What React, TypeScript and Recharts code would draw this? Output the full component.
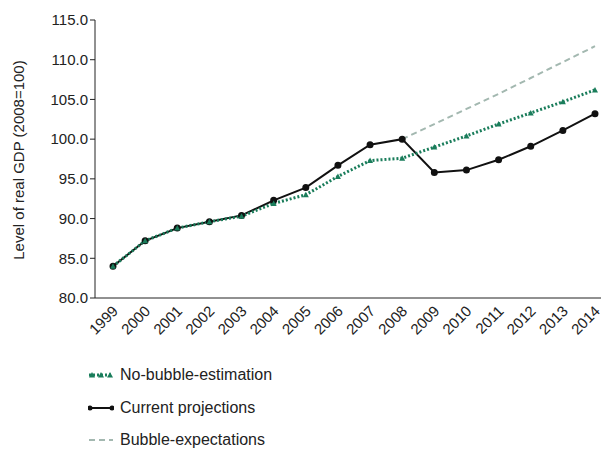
import { LineChart, Line, XAxis, YAxis } from "recharts";

const years = ["1999","2000","2001","2002","2003","2004","2005","2006","2007","2008","2009","2010","2011","2012","2013","2014"];
const noBubble = [84.0, 87.2, 88.8, 89.6, 90.3, 91.9, 93.0, 95.3, 97.3, 97.6, 99.0, 100.4, 101.9, 103.3, 104.7, 106.2];
const current = [84.0, 87.2, 88.8, 89.6, 90.4, 92.3, 93.9, 96.7, 99.3, 100.0, 95.8, 96.1, 97.4, 99.1, 101.1, 103.2];
const bubble: (number | null)[] = [null, null, null, null, null, null, null, null, null, 100.0, 101.9, 103.8, 105.7, 107.7, 109.7, 111.7];
const yTicks = [80, 85, 90, 95, 100, 105, 110, 115];

const GREEN = "#1a7d5b";
const GREY = "#a3b8b0";
const FONT = "'Liberation Sans', Arial, sans-serif";

const data = years.map((y, i) => ({ year: y, noBubble: noBubble[i], current: current[i], bubble: bubble[i] }));

const Tri = (props: any) => {
  const { cx, cy } = props;
  if (cx == null || cy == null) return null;
  return <path d={`M${cx},${cy - 3} L${cx + 3},${cy + 2.5} L${cx - 3},${cy + 2.5} Z`} fill={GREEN} />;
};

const XTick = (props: any) => {
  const { x, y, payload } = props;
  return (
    <text x={x + 6} y={y + 6} transform={`rotate(-45 ${x + 6} ${y + 6})`} textAnchor="end" fontSize={15} fill="#222" fontFamily={FONT}>
      {payload.value}
    </text>
  );
};

const legend = [
  { label: "No-bubble-estimation", color: GREEN, dash: "2 2", width: 3, marker: "tri", top: 366 },
  { label: "Current projections", color: "#111", dash: undefined, width: 2, marker: "dot", top: 399 },
  { label: "Bubble-expectations", color: GREY, dash: "6 4", width: 2, marker: "none", top: 431 },
];

export default function App() {
  return (
    <div style={{ position: "relative", left: -8, top: -8, width: 609, height: 449, background: "#fff", fontFamily: FONT }}>
      <LineChart width={609} height={360} data={data} margin={{ top: 20, right: 0, left: 0, bottom: 0 }}>
        <XAxis dataKey="year" tick={<XTick />} tickLine={false} axisLine={{ stroke: "#222" }} interval={0} height={62} padding={{ left: 18, right: 14 }} />
        <YAxis
          domain={[80, 115]}
          ticks={yTicks}
          tickFormatter={(v: number) => v.toFixed(1)}
          tick={{ fontSize: 15, fill: "#222", fontFamily: FONT }}
          axisLine={{ stroke: "#222" }}
          tickLine={{ stroke: "#222" }}
          tickSize={5}
          width={95}
        />
        <Line dataKey="bubble" stroke={GREY} strokeWidth={2} strokeDasharray="6 4" dot={false} isAnimationActive={false} />
        <Line dataKey="current" stroke="#111" strokeWidth={2} dot={{ r: 2.5, fill: "#111", stroke: "#111" }} isAnimationActive={false} />
        <Line dataKey="noBubble" stroke={GREEN} strokeWidth={3} strokeDasharray="2 2" dot={<Tri />} isAnimationActive={false} />
      </LineChart>
      <svg width={30} height={300} style={{ position: "absolute", left: 0, top: 10 }}>
        <text x={24} y={150} transform="rotate(-90 24 150)" textAnchor="middle" fontSize={15} fill="#222" fontFamily={FONT}>
          Level of real GDP (2008=100)
        </text>
      </svg>
      {legend.map((l) => (
        <div key={l.label} style={{ position: "absolute", left: 88, top: l.top, display: "flex", alignItems: "center", fontSize: 16, color: "#222" }}>
          <svg width={26} height={12} style={{ marginRight: 6 }}>
            <line x1={1} y1={6} x2={25} y2={6} stroke={l.color} strokeWidth={l.width} strokeDasharray={l.dash} />
            {l.marker === "tri" && [4, 13, 22].map((cx) => <path key={cx} d={`M${cx},3 L${cx + 3},8.5 L${cx - 3},8.5 Z`} fill={GREEN} />)}
            {l.marker === "dot" && [2, 24].map((cx) => <circle key={cx} cx={cx} cy={6} r={2.5} fill="#111" />)}
          </svg>
          {l.label}
        </div>
      ))}
    </div>
  );
}
